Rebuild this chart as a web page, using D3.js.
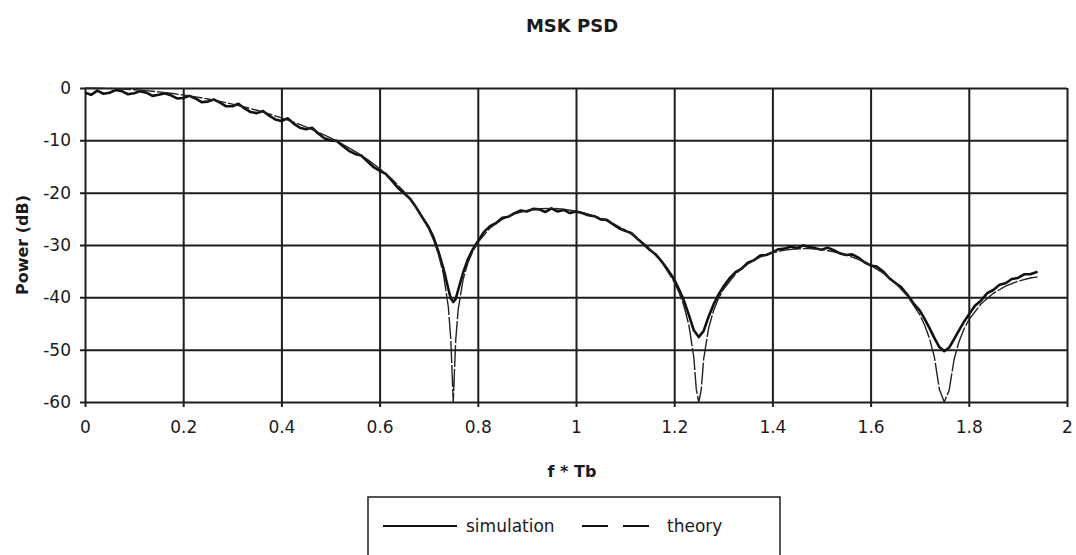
<!DOCTYPE html>
<html>
<head>
<meta charset="utf-8">
<script src="https://cdn.jsdelivr.net/npm/d3@7"></script>
<style>
  body { margin: 0; background: #fff; }
  text { font-family: "DejaVu Sans", sans-serif; fill: #1a1a1a; }
</style>
</head>
<body>
<svg id="psd" width="1076" height="555"></svg>
<script>
// f*Tb values and power (dB)
const fTheory = [0, 0.025, 0.05, 0.075, 0.1, 0.125, 0.15, 0.175, 0.2, 0.225, 0.25, 0.275, 0.3, 0.325, 0.35, 0.375,
  0.4, 0.425, 0.45, 0.475, 0.5, 0.525, 0.55, 0.575, 0.6, 0.625, 0.65, 0.675, 0.7, 0.71, 0.72, 0.73, 0.74, 0.745,
  0.75, 0.755, 0.76, 0.77, 0.78, 0.79, 0.8, 0.825, 0.85, 0.875, 0.9, 0.925, 0.95, 0.975, 1.0, 1.025, 1.05, 1.075,
  1.1, 1.125, 1.15, 1.175, 1.2, 1.21, 1.22, 1.23, 1.24, 1.245, 1.25, 1.255, 1.26, 1.27, 1.28, 1.29, 1.3, 1.325,
  1.35, 1.375, 1.4, 1.425, 1.45, 1.475, 1.5, 1.525, 1.55, 1.575, 1.6, 1.625, 1.65, 1.675, 1.7, 1.71, 1.72, 1.73,
  1.74, 1.75, 1.76, 1.77, 1.78, 1.79, 1.8, 1.825, 1.85, 1.875, 1.9, 1.925, 1.94];
const pTheory = [0, -0.02, -0.08, -0.18, -0.33, -0.51, -0.74, -1.01, -1.33, -1.69, -2.10, -2.56, -3.07, -3.64, -4.26, -4.95,
  -5.70, -6.53, -7.44, -8.44, -9.54, -10.76, -12.12, -13.65, -15.39, -17.41, -19.82, -22.83, -26.90, -29.07, -31.81, -35.57, -41.84, -47.99,
  -60, -48.25, -42.36, -36.61, -33.37, -31.16, -29.51, -26.76, -25.09, -24.03, -23.40, -23.07, -23.00, -23.16, -23.52, -24.09, -24.86, -25.86,
  -27.12, -28.70, -30.71, -33.34, -37.06, -39.10, -41.71, -45.35, -51.50, -57.59, -60, -57.73, -51.79, -45.93, -42.58, -40.26, -38.51, -35.52,
  -33.61, -32.33, -31.49, -30.97, -30.71, -30.69, -30.88, -31.28, -31.90, -32.75, -33.87, -35.32, -37.20, -39.71, -43.31, -45.30, -47.86, -51.46,
  -57.57, -60, -57.77, -51.87, -48.47, -46.11, -44.32, -41.23, -39.23, -37.86, -36.92, -36.31, -36.08];

const fSim = [
  0, 0.0125, 0.025, 0.0375, 0.05, 0.0625, 0.075, 0.0875, 0.1, 0.1125, 0.125, 0.1375, 0.15, 0.1625, 0.175, 0.1875,
  0.2, 0.2125, 0.225, 0.2375, 0.25, 0.2625, 0.275, 0.2875, 0.3, 0.3125, 0.325, 0.3375, 0.35, 0.3625, 0.375, 0.3875,
  0.4, 0.4125, 0.425, 0.4375, 0.45, 0.4625, 0.475, 0.4875, 0.5, 0.5125, 0.525, 0.5375, 0.55, 0.5625, 0.575, 0.5875,
  0.6, 0.6125, 0.625, 0.6375, 0.65, 0.6625, 0.675, 0.6875,
  0.7, 0.71, 0.72, 0.73, 0.74, 0.745, 0.75, 0.755, 0.76, 0.77, 0.78, 0.79,
  0.8, 0.8125, 0.825, 0.8375, 0.85, 0.8625, 0.875, 0.8875, 0.9, 0.9125, 0.925, 0.9375, 0.95, 0.9625, 0.975, 0.9875,
  1.0, 1.0125, 1.025, 1.0375, 1.05, 1.0625, 1.075, 1.0875, 1.1, 1.1125, 1.125, 1.1375, 1.15, 1.1625, 1.175, 1.1875,
  1.2, 1.21, 1.22, 1.23, 1.24, 1.25, 1.26, 1.27, 1.28, 1.29,
  1.3, 1.3125, 1.325, 1.3375, 1.35, 1.3625, 1.375, 1.3875, 1.4, 1.4125, 1.425, 1.4375, 1.45, 1.4625, 1.475, 1.4875,
  1.5, 1.5125, 1.525, 1.5375, 1.55, 1.5625, 1.575, 1.5875, 1.6, 1.6125, 1.625, 1.6375, 1.65, 1.6625, 1.675, 1.6875,
  1.7, 1.71, 1.72, 1.73, 1.74, 1.75, 1.76, 1.77, 1.78, 1.79,
  1.8, 1.8125, 1.825, 1.8375, 1.85, 1.8625, 1.875, 1.8875, 1.9, 1.9125, 1.925, 1.94];
const pSim = [
  -0.9, -1.3, -0.5, -1.1, -0.9, -0.4, -0.6, -1.2, -1.0, -0.6, -0.9, -1.5, -1.3, -1.0, -1.4, -2.0,
  -1.9, -1.5, -2.0, -2.7, -2.6, -2.2, -2.8, -3.5, -3.5, -3.0, -3.9, -4.6, -4.8, -4.4, -5.3, -6.0,
  -6.3, -5.8, -6.8, -7.6, -7.9, -7.6, -8.7, -9.6, -10.0, -10.1, -11.1, -12.0, -12.6, -12.9, -14.0, -15.1,
  -15.8, -16.4, -17.7, -19.1, -20.1, -21.2, -22.9, -24.8,
  -26.6, -28.6, -31.3, -34.5, -38.4, -40.2, -40.9, -40.3, -38.6, -35.3, -32.7, -30.8,
  -29.3, -27.5, -26.4, -25.8, -24.8, -24.6, -23.9, -23.4, -23.6, -23.1, -23.2, -23.7, -23.0, -23.6, -23.3, -23.9,
  -23.6, -23.9, -24.3, -24.5, -25.1, -25.2, -26.0, -26.8, -27.3, -27.7, -28.8, -29.8, -30.9, -31.8, -33.2, -34.8,
  -36.6, -38.5, -40.7, -43.4, -46.3, -47.6, -46.4, -43.7, -41.4, -39.5,
  -38.0, -36.4, -35.2, -34.5, -33.4, -32.9, -32.0, -31.9, -31.4, -30.8, -30.7, -30.3, -30.6, -30.1, -30.4, -30.6,
  -30.9, -30.5, -31.0, -31.6, -31.9, -31.8, -32.4, -33.3, -33.9, -34.1, -35.0, -36.3, -37.2, -38.1, -39.5, -41.2,
  -42.5, -44.1, -45.9, -47.8, -49.5, -50.3, -49.6, -48.0, -46.3, -44.7,
  -43.3, -41.6, -40.6, -39.2, -38.6, -37.6, -37.3, -36.5, -36.3, -35.6, -35.6, -35.1];

const xTicks = [0, 0.2, 0.4, 0.6, 0.8, 1, 1.2, 1.4, 1.6, 1.8, 2];
const yTicks = [0, -10, -20, -30, -40, -50, -60];
const seriesNames = ["simulation", "theory"];

let svg = d3.select("#psd");
let margin = {top: 88, right: 9, bottom: 153, left: 85};
let width = 1076 - margin.left - margin.right;
let height = 555 - margin.top - margin.bottom;

let g = svg.append("g")
    .attr("transform", `translate(${margin.left}, ${margin.top})`);

let x = d3.scaleLinear().domain([0, 2]).range([0, width]);
let y = d3.scaleLinear().domain([-60, 0]).range([height, 0]);

// gridlines via axes, ticks stick out a few px
let xAxis = g.append("g")
    .attr("transform", `translate(0, ${height + 5})`)
    .call(d3.axisBottom(x).tickValues(xTicks).tickSize(-(height + 5)).tickSizeOuter(0)
        .tickFormat(d => String(+d.toFixed(1))).tickPadding(14));
xAxis.select(".domain").remove();

let yAxis = g.append("g")
    .attr("transform", `translate(-5, 0)`)
    .call(d3.axisLeft(y).tickValues(yTicks).tickSize(-(width + 5)).tickSizeOuter(0)
        .tickFormat(d => String(d)).tickPadding(9));
yAxis.select(".domain").remove();

svg.selectAll(".tick line").attr("stroke", "#1e1e1e").attr("stroke-width", 2);
svg.selectAll(".tick text").style("font-size", "17px").attr("fill", "#1a1a1a");

let line = d3.line().x(d => x(d[0])).y(d => y(d[1]));

g.append("path")
    .datum(fSim.map((f, i) => [f, pSim[i]]))
    .attr("fill", "none")
    .attr("stroke", "#111")
    .attr("stroke-width", 2.6)
    .attr("stroke-linejoin", "round")
    .attr("d", line);

g.append("path")
    .datum(fTheory.map((f, i) => [f, pTheory[i]]))
    .attr("fill", "none")
    .attr("stroke", "#222")
    .attr("stroke-width", 1.4)
    .attr("stroke-dasharray", "22,2")
    .attr("d", line);

// titles
svg.append("text")
    .attr("x", 572).attr("y", 32)
    .attr("text-anchor", "middle")
    .style("font-size", "18px").style("font-weight", "bold")
    .text("MSK PSD");

svg.append("text")
    .attr("x", 572).attr("y", 477)
    .attr("text-anchor", "middle")
    .style("font-size", "16px").style("font-weight", "bold")
    .text("f * Tb");

svg.append("text")
    .attr("transform", "translate(28, 245) rotate(-90)")
    .attr("text-anchor", "middle")
    .style("font-size", "16px").style("font-weight", "bold")
    .text("Power (dB)");

// legend
let legend = svg.append("g");
legend.append("rect")
    .attr("x", 368).attr("y", 497).attr("width", 412).attr("height", 80)
    .attr("fill", "none").attr("stroke", "#1e1e1e").attr("stroke-width", 1.5);
legend.append("line")
    .attr("x1", 383).attr("x2", 457).attr("y1", 526).attr("y2", 526)
    .attr("stroke", "#111").attr("stroke-width", 2);
legend.append("text")
    .attr("x", 466).attr("y", 532).style("font-size", "17px")
    .text(seriesNames[0]);
legend.append("line")
    .attr("x1", 582).attr("x2", 649).attr("y1", 526).attr("y2", 526)
    .attr("stroke", "#111").attr("stroke-width", 2)
    .attr("stroke-dasharray", "26,15");
legend.append("text")
    .attr("x", 667).attr("y", 532).style("font-size", "17px")
    .text(seriesNames[1]);
</script>
</body>
</html>
